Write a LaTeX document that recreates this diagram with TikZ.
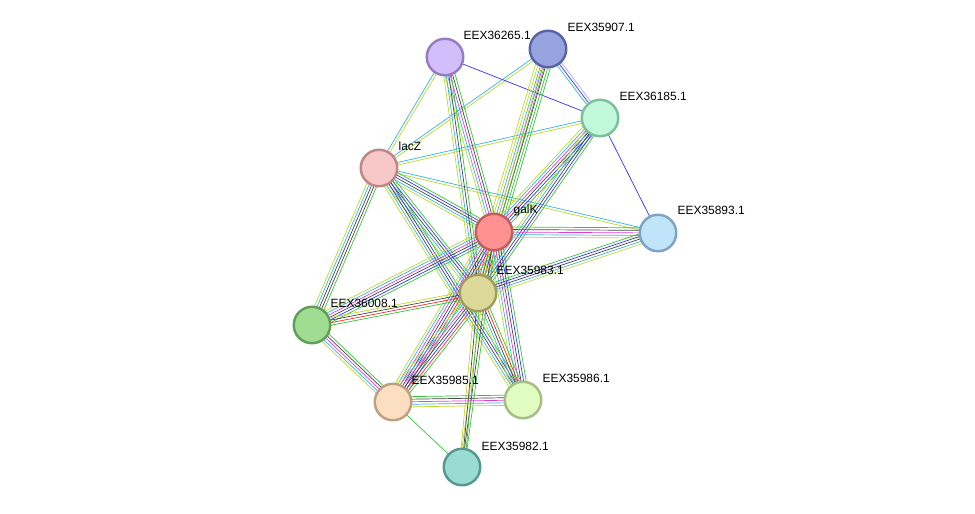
\documentclass[tikz,border=0pt]{standalone}
\usepackage{fontspec}
\setmainfont{Liberation Sans}
\usetikzlibrary{calc,backgrounds}

\definecolor{cgreen}{RGB}{52,196,52}
\definecolor{cred}{RGB}{250,40,40}
\definecolor{cblue}{RGB}{50,50,250}
\definecolor{cblack}{RGB}{70,70,70}
\definecolor{cmag}{RGB}{220,60,220}
\definecolor{ccyan}{RGB}{50,180,220}
\definecolor{cyel}{RGB}{190,215,40}
\definecolor{chom}{RGB}{170,170,240}
% node fill / rim
\definecolor{f36265}{RGB}{210,190,250}\definecolor{r36265}{RGB}{150,125,195}
\definecolor{f35907}{RGB}{152,164,224}\definecolor{r35907}{RGB}{88,100,165}
\definecolor{f36185}{RGB}{192,250,218}\definecolor{r36185}{RGB}{125,190,155}
\definecolor{flacZ}{RGB}{248,200,200}\definecolor{rlacZ}{RGB}{190,135,135}
\definecolor{fgalK}{RGB}{255,145,145}\definecolor{rgalK}{RGB}{190,95,95}
\definecolor{f35893}{RGB}{192,228,250}\definecolor{r35893}{RGB}{125,165,195}
\definecolor{f35983}{RGB}{220,216,152}\definecolor{r35983}{RGB}{160,155,95}
\definecolor{f36008}{RGB}{160,220,145}\definecolor{r36008}{RGB}{95,160,88}
\definecolor{f35985}{RGB}{252,222,192}\definecolor{r35985}{RGB}{190,160,128}
\definecolor{f35986}{RGB}{225,252,192}\definecolor{r35986}{RGB}{165,190,135}
\definecolor{f35982}{RGB}{152,220,212}\definecolor{r35982}{RGB}{88,152,145}

% parallel coloured lines between two nodes
\newcommand\bundle[3]{%
  \xdef\nn{0}%
  \foreach \c in {#3}{\xdef\nn{\the\numexpr\nn+1\relax}}%
  \foreach \c [count=\i] in {#3}{%
    \pgfmathsetmacro\off{(\i-(\nn+1)/2)*1.45}%
    \draw[\c] ($(#1)!\off pt!90:(#2)$) -- ($(#2)!\off pt!-90:(#1)$);
  }%
}

\begin{document}
\begin{tikzpicture}[x=0.02cm, y=-0.02cm, line width=0.75pt, line cap=round,
  prot/.style={circle, minimum size=0.73cm, inner sep=0pt, line width=1.4pt, fill=f#1, draw=r#1},
  lbl/.style={anchor=west, inner sep=0pt, font=\fontsize{6.8}{8}\selectfont}]
\useasboundingbox (0,0) rectangle (975,514);

% proteins
\node[prot=36265] (s36265) at (445,57) {};
\node[prot=35907] (s35907) at (548,49) {};
\node[prot=36185] (s36185) at (600,118) {};
\node[prot=lacZ] (lacZ) at (379,168) {};
\node[prot=galK] (galK) at (494,232) {};
\node[prot=35893] (s35893) at (658,233) {};
\node[prot=35983] (s35983) at (478,293) {};
\node[prot=36008] (s36008) at (312,325) {};
\node[prot=35985] (s35985) at (393,402) {};
\node[prot=35986] (s35986) at (523,400) {};
\node[prot=35982] (s35982) at (462,467) {};

% names
\node[lbl] (l36265) at ($(s36265)+(18,-22)$) {EEX36265.1};
\node[lbl] (l35907) at ($(s35907)+(19,-22)$) {EEX35907.1};
\node[lbl] (l36185) at ($(s36185)+(19,-22)$) {EEX36185.1};
\node[lbl] (llacZ) at ($(lacZ)+(19,-22)$) {lacZ};
\node[lbl] (lgalK) at ($(galK)+(19,-22)$) {galK};
\node[lbl] (l35893) at ($(s35893)+(19,-23)$) {EEX35893.1};
\node[lbl] (l35983) at ($(s35983)+(18,-23)$) {EEX35983.1};
\node[lbl] (l36008) at ($(s36008)+(18,-22)$) {EEX36008.1};
\node[lbl] (l35985) at ($(s35985)+(18,-22)$) {EEX35985.1};
\node[lbl] (l35986) at ($(s35986)+(19,-22)$) {EEX35986.1};
\node[lbl] (l35982) at ($(s35982)+(19,-21)$) {EEX35982.1};

% interactions
\begin{scope}[on background layer]
\bundle{lacZ}{s36265}{cyel,ccyan}
\bundle{lacZ}{s35907}{cyel,ccyan}
\bundle{lacZ}{s36185}{cyel,ccyan}
\bundle{lacZ}{s35893}{cyel,ccyan}
\bundle{lacZ}{galK}{cyel,ccyan,cblack,cblue,cgreen}
\bundle{lacZ}{s35983}{cyel,ccyan,cblack,cblue,cgreen}
\bundle{lacZ}{s35986}{cyel,ccyan,cblack,cblue,cgreen}
\bundle{lacZ}{s36008}{cyel,ccyan,cblack,cblack,cgreen}
\bundle{s36265}{s36185}{cblue}
\bundle{s36265}{galK}{cyel,ccyan,cmag,cblack,cgreen}
\bundle{s36265}{s35983}{cyel,ccyan,cblack,cgreen}
\bundle{s35907}{galK}{cyel,cyel,ccyan,cmag,cblack,cgreen,cgreen}
\bundle{s35907}{s35983}{cyel,cgreen}
\bundle{s35907}{s36185}{ccyan,cblue,chom}
\bundle{s36185}{galK}{cyel,ccyan,cmag,cblack,cblue,cgreen}
\bundle{s36185}{s35983}{cyel,ccyan,cblack,cblue,cgreen}
\bundle{s36185}{s35893}{cblue}
\bundle{galK}{s35893}{cyel,ccyan,cmag,cblack,cgreen}
\bundle{galK}{s35983}{cyel,ccyan,cmag,cblack,cblue,cred,cgreen}
\bundle{galK}{s36008}{cyel,ccyan,cmag,cblack,cblue,cgreen}
\bundle{galK}{s35985}{cyel,ccyan,cmag,cblack,cblue,cred,cgreen}
\bundle{galK}{s35986}{cyel,ccyan,cmag,cblack,cblue,cgreen}
\bundle{galK}{s35982}{cyel,cblack,cgreen}
\bundle{s35983}{s35893}{cyel,ccyan,cblack,cblue,cgreen}
\bundle{s35983}{s36008}{cyel,cblack,cred,cgreen}
\bundle{s35983}{s35985}{cyel,ccyan,cmag,cblack,cblue,cred,cgreen}
\bundle{s35983}{s35986}{cyel,ccyan,cblack,cred,cgreen}
\bundle{s35983}{s35982}{cyel,cblack,cgreen}
\bundle{s36008}{s35985}{cyel,ccyan,cmag,cblack,cgreen}
\bundle{s35985}{s35986}{cyel,ccyan,cmag,cblack,cgreen}
\bundle{s35985}{s35982}{cgreen}
\end{scope}
\end{tikzpicture}
\end{document}
